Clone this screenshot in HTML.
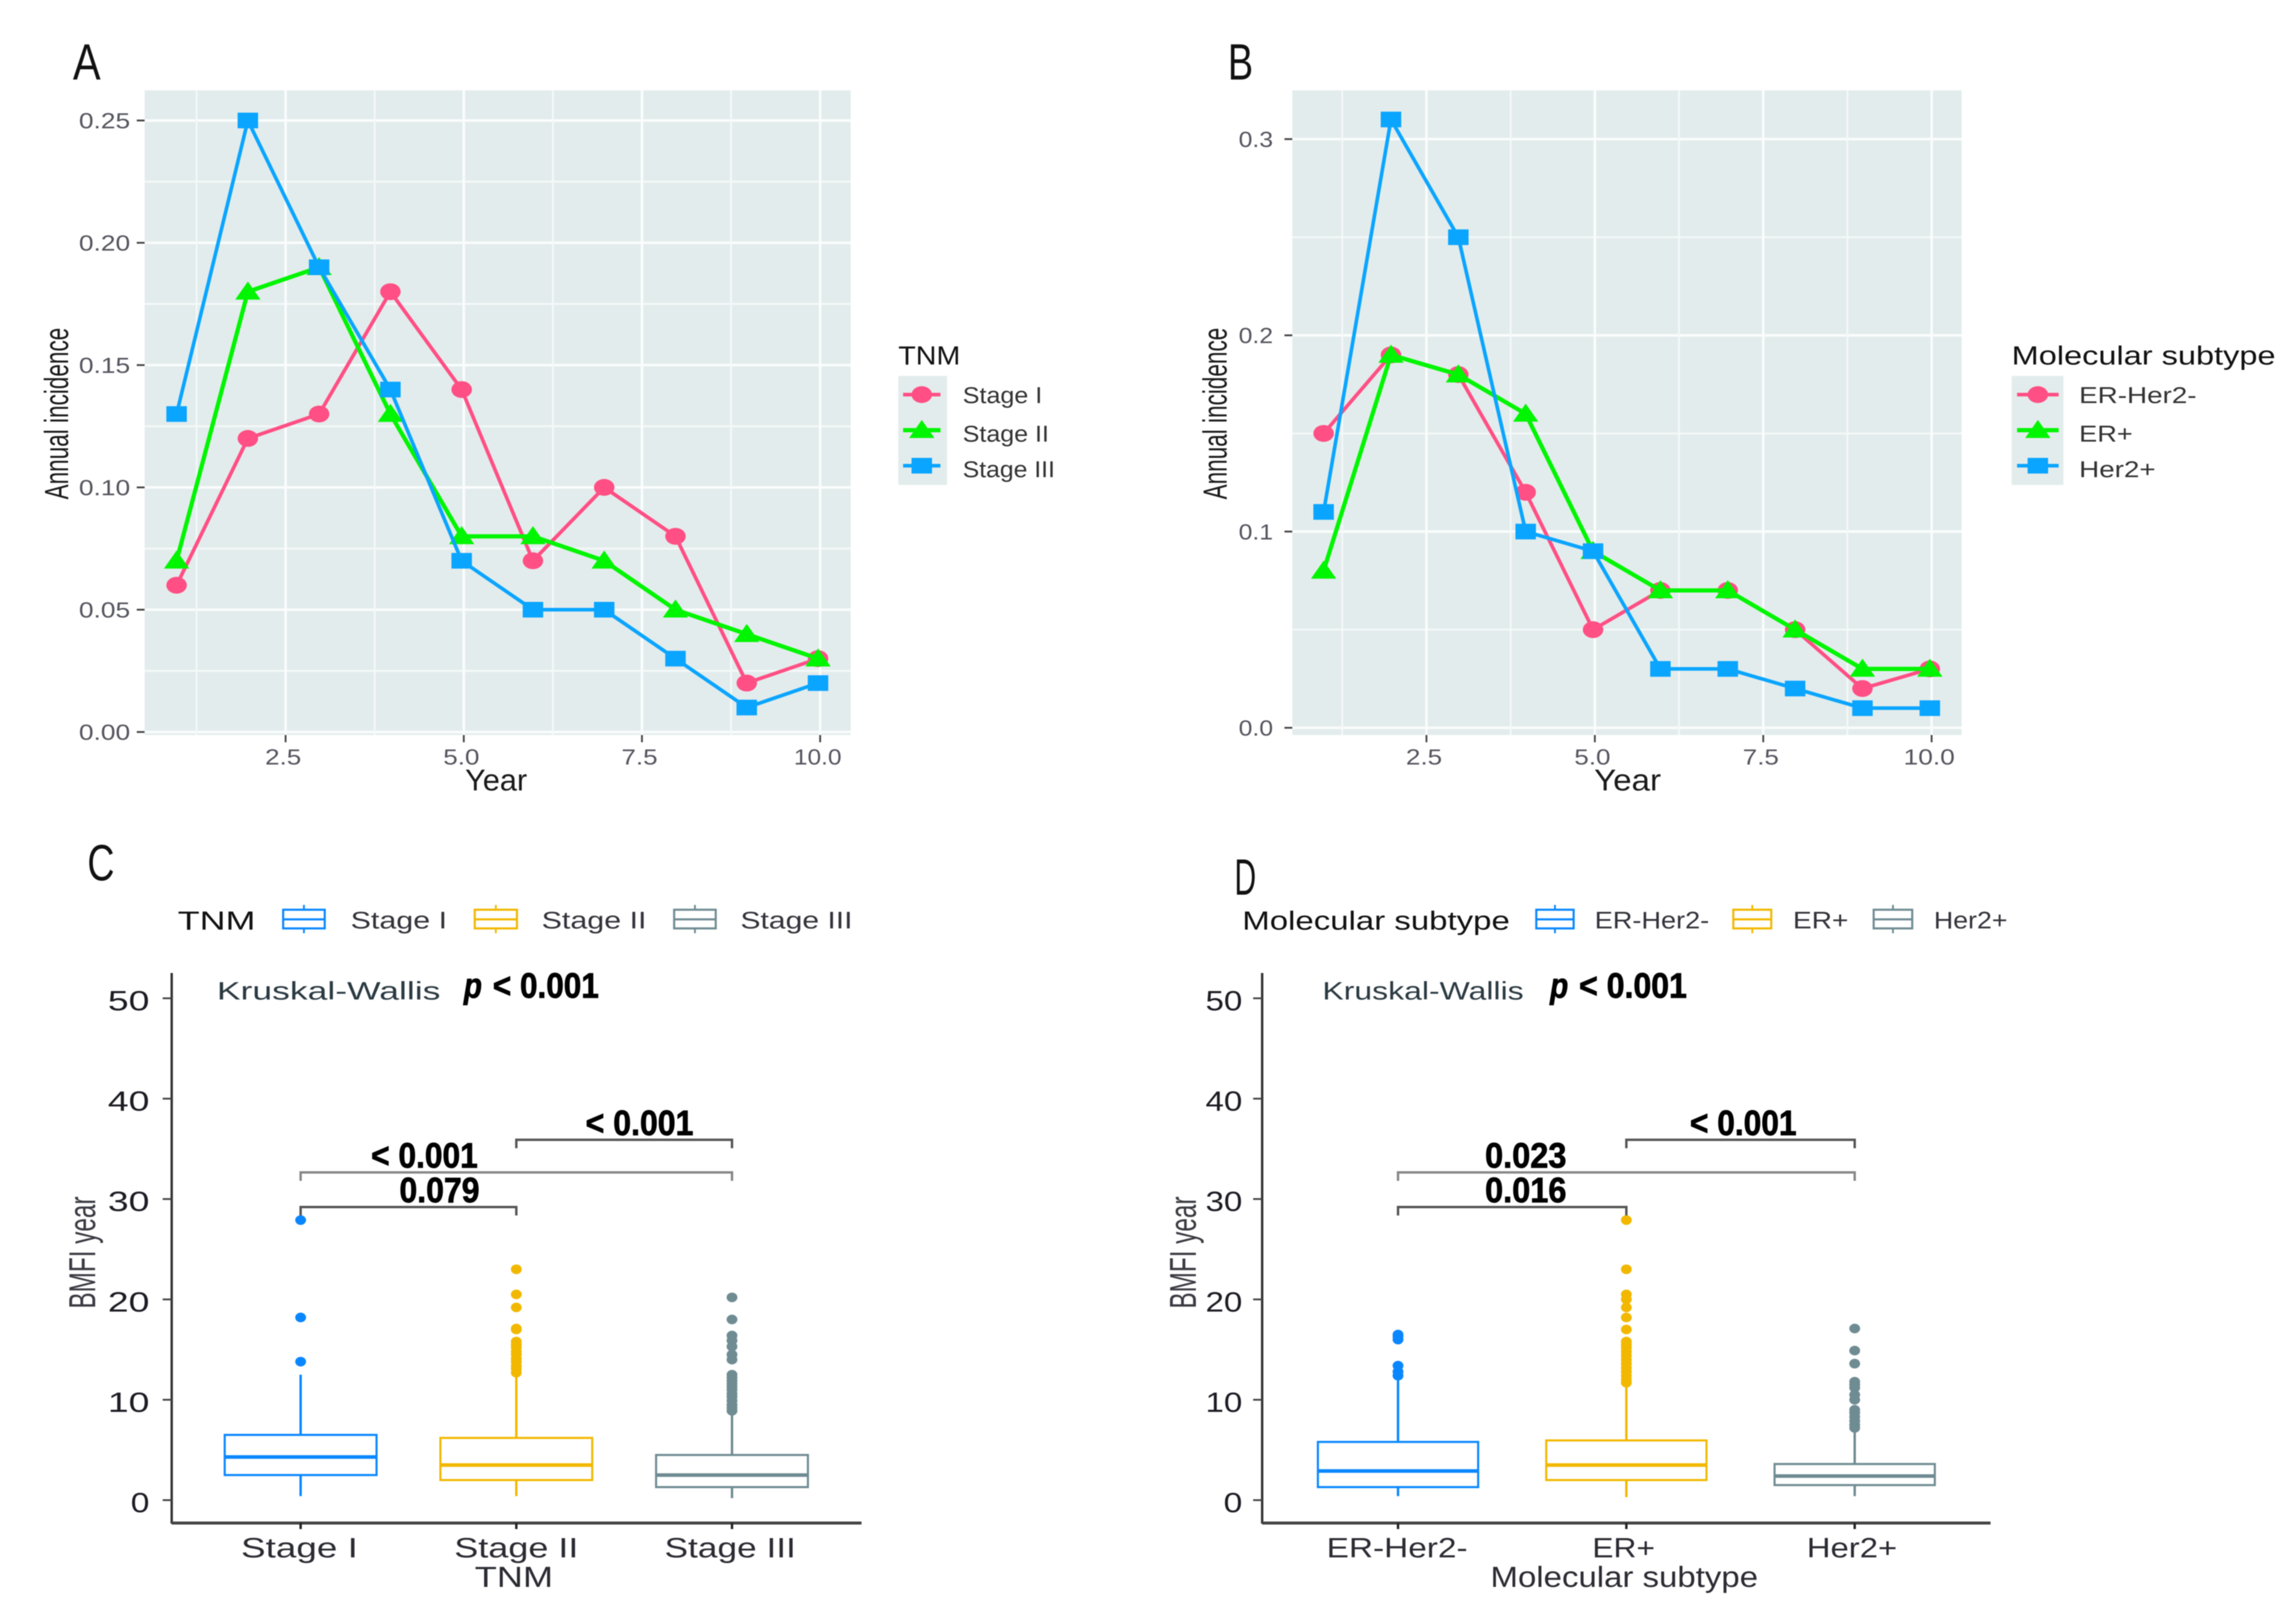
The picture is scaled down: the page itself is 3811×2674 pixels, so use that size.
<!DOCTYPE html>
<html lang="en">
<head>
<meta charset="utf-8">
<title>Annual incidence and BMFI year by TNM and molecular subtype</title>
<style>
html,body{margin:0;padding:0;background:#fff;}
svg{display:block;filter:blur(0.9px);}
text{font-family:"Liberation Sans",sans-serif;}
.letter{font-size:84px;fill:#111;}
.axt{font-size:50px;fill:#1a1a1a;}
.axr{font-size:56px;fill:#1a1a1a;}
.legt{font-size:44px;fill:#111;}
.legl{font-size:38px;fill:#333;}
.kw{font-size:42px;fill:#2b3a42;}
.sig{font-size:58px;font-weight:bold;fill:#000;stroke:#000;stroke-width:1.2px;}
.boxl{font-size:48px;fill:#2b2b33;}
.boxr{font-size:62px;fill:#3a3a42;}
.boxleg{font-size:40px;fill:#33333b;}
</style>
</head>
<body>
<svg id="fig" xmlns="http://www.w3.org/2000/svg" width="3811" height="2674" viewBox="0 0 3811 2674">
<rect width="3811" height="2674" fill="#fff"/>

<text class="letter" x="121" y="132" textLength="46" lengthAdjust="spacingAndGlyphs">A</text>
<text class="letter" x="2038" y="132" textLength="42" lengthAdjust="spacingAndGlyphs">B</text>
<text class="letter" x="145" y="1461" textLength="45" lengthAdjust="spacingAndGlyphs">C</text>
<text class="letter" x="2049" y="1485" textLength="36" lengthAdjust="spacingAndGlyphs">D</text>

<rect x="1491" y="624" width="81" height="181" fill="#e3ecec"/>
<rect x="3339" y="624" width="86" height="181" fill="#e3ecec"/>

<g id="panelA"></g>
<g id="panelB"></g>
<g id="panelC"></g>
<g id="panelD"></g>

<!-- Panel A titles -->
<text class="axt" x="772" y="1312" textLength="103" lengthAdjust="spacingAndGlyphs">Year</text>
<text class="axr" transform="translate(113 829) rotate(-90)" textLength="285" lengthAdjust="spacingAndGlyphs">Annual incidence</text>
<text class="legt" x="1491" y="605" textLength="103" lengthAdjust="spacingAndGlyphs">TNM</text>
<text class="legl" x="1598" y="669" textLength="132" lengthAdjust="spacingAndGlyphs">Stage I</text>
<text class="legl" x="1598" y="733" textLength="143" lengthAdjust="spacingAndGlyphs">Stage II</text>
<text class="legl" x="1598" y="792" textLength="153" lengthAdjust="spacingAndGlyphs">Stage III</text>

<!-- Panel B titles -->
<text class="axt" x="2646" y="1312" textLength="111" lengthAdjust="spacingAndGlyphs">Year</text>
<text class="axr" transform="translate(2036 829) rotate(-90)" textLength="285" lengthAdjust="spacingAndGlyphs">Annual incidence</text>
<text class="legt" x="3339" y="605" textLength="438" lengthAdjust="spacingAndGlyphs">Molecular subtype</text>
<text class="legl" x="3451" y="669" textLength="195" lengthAdjust="spacingAndGlyphs">ER-Her2-</text>
<text class="legl" x="3451" y="733" textLength="89" lengthAdjust="spacingAndGlyphs">ER+</text>
<text class="legl" x="3451" y="792" textLength="127" lengthAdjust="spacingAndGlyphs">Her2+</text>

<!-- Panel C titles -->
<text class="legt" x="295" y="1543" textLength="129" lengthAdjust="spacingAndGlyphs">TNM</text>
<text class="boxleg" x="582" y="1541" textLength="160" lengthAdjust="spacingAndGlyphs">Stage I</text>
<text class="boxleg" x="899" y="1541" textLength="174" lengthAdjust="spacingAndGlyphs">Stage II</text>
<text class="boxleg" x="1229" y="1541" textLength="186" lengthAdjust="spacingAndGlyphs">Stage III</text>
<text class="kw" x="360" y="1659" textLength="371" lengthAdjust="spacingAndGlyphs">Kruskal-Wallis</text>
<text class="sig" x="770" y="1656" textLength="30" lengthAdjust="spacingAndGlyphs" font-style="italic">p</text>
<text class="sig" x="818" y="1656" textLength="176" lengthAdjust="spacingAndGlyphs">&lt; 0.001</text>
<text class="boxl" x="788" y="2634" textLength="130" lengthAdjust="spacingAndGlyphs">TNM</text>
<text class="boxr" transform="translate(158 2172) rotate(-90)" textLength="186" lengthAdjust="spacingAndGlyphs">BMFI year</text>

<!-- Panel D titles -->
<text class="legt" x="2062" y="1543" textLength="444" lengthAdjust="spacingAndGlyphs">Molecular subtype</text>
<text class="boxleg" x="2647" y="1541" textLength="190" lengthAdjust="spacingAndGlyphs">ER-Her2-</text>
<text class="boxleg" x="2976" y="1541" textLength="92" lengthAdjust="spacingAndGlyphs">ER+</text>
<text class="boxleg" x="3210" y="1541" textLength="122" lengthAdjust="spacingAndGlyphs">Her2+</text>
<text class="kw" x="2195" y="1659" textLength="334" lengthAdjust="spacingAndGlyphs">Kruskal-Wallis</text>
<text class="sig" x="2573" y="1656" textLength="30" lengthAdjust="spacingAndGlyphs" font-style="italic">p</text>
<text class="sig" x="2621" y="1656" textLength="179" lengthAdjust="spacingAndGlyphs">&lt; 0.001</text>
<text class="boxl" x="2474" y="2634" textLength="444" lengthAdjust="spacingAndGlyphs">Molecular subtype</text>
<text class="boxr" transform="translate(1985 2172) rotate(-90)" textLength="186" lengthAdjust="spacingAndGlyphs">BMFI year</text>
</svg>

<script>
// ---------- data: line charts ----------
const years = [1, 2, 3, 4, 5, 6, 7, 8, 9, 10];
const xTickValues = [2.5, 5, 7.5, 10];
const xTickMinor = [1.25, 3.75, 6.25, 8.75];

const stageOneIncidence = [0.06, 0.12, 0.13, 0.18, 0.14, 0.07, 0.10, 0.08, 0.02, 0.03];
const stageTwoIncidence = [0.07, 0.18, 0.19, 0.13, 0.08, 0.08, 0.07, 0.05, 0.04, 0.03];
const stageThreeIncidence = [0.13, 0.25, 0.19, 0.14, 0.07, 0.05, 0.05, 0.03, 0.01, 0.02];
const yTicksA = [0, 0.05, 0.10, 0.15, 0.20, 0.25];
const yMinorA = [0.025, 0.075, 0.125, 0.175, 0.225];

const erHer2NegIncidence = [0.15, 0.19, 0.18, 0.12, 0.05, 0.07, 0.07, 0.05, 0.02, 0.03];
const erPosIncidence = [0.08, 0.19, 0.18, 0.16, 0.09, 0.07, 0.07, 0.05, 0.03, 0.03];
const her2PosIncidence = [0.11, 0.31, 0.25, 0.10, 0.09, 0.03, 0.03, 0.02, 0.01, 0.01];
const yTicksB = [0, 0.1, 0.2, 0.3];
const yMinorB = [0.05, 0.15, 0.25];

// ---------- data: box plots ----------
const boxTicks = [0, 10, 20, 30, 40, 50];

const tnmCategories = ['Stage I', 'Stage II', 'Stage III'];
const tnmLow = [0.4, 0.4, 0.2];
const tnmQ1 = [2.5, 2.0, 1.3];
const tnmMedian = [4.3, 3.5, 2.5];
const tnmQ3 = [6.5, 6.2, 4.5];
const tnmHigh = [12.5, 12.5, 8.8];
const tnmOutliersOne = [13.8, 18.2, 27.9];
const tnmOutliersTwo = [12.7, 13.1, 13.4, 13.8, 14.1, 14.5, 14.8, 15.2, 15.5, 15.8, 17, 17.1, 19.2, 20.5, 23];
const tnmOutliersThree = [8.9, 9.2, 9.5, 9.9, 10.3, 10.6, 11, 11.3, 11.6, 11.9, 12.2, 12.5, 14, 14.5, 15.3, 15.9, 16.4, 18, 20.2];
const tnmBracketFrom = [0, 0, 1];
const tnmBracketTo = [1, 2, 2];
const tnmBracketLevel = [29.2, 32.65, 35.9];
const tnmBracketLabels = ['0.079', '< 0.001', '< 0.001'];

const subtypeCategories = ['ER-Her2-', 'ER+', 'Her2+'];
const subtypeLow = [0.4, 0.3, 0.4];
const subtypeQ1 = [1.3, 2.0, 1.5];
const subtypeMedian = [2.9, 3.5, 2.4];
const subtypeQ3 = [5.8, 5.95, 3.6];
const subtypeHigh = [12.3, 11.5, 7.0];
const subtypeOutliersOne = [12.4, 12.8, 13.4, 16, 16.3, 16.5];
const subtypeOutliersTwo = [11.7, 12, 12.4, 12.8, 13.2, 13.6, 14, 14.4, 14.8, 15.2, 15.5, 15.8, 17, 18.2, 19.2, 20, 20.5, 23, 27.9];
const subtypeOutliersThree = [7.2, 7.5, 7.9, 8.3, 8.7, 9, 10, 10.5, 11.2, 11.5, 11.8, 13.6, 14.9, 17.1];
const subtypeBracketFrom = [0, 0, 1];
const subtypeBracketTo = [1, 2, 2];
const subtypeBracketLevel = [29.2, 32.65, 35.9];
const subtypeBracketLabels = ['0.016', '0.023', '< 0.001'];

// ---------- helpers ----------
const SVGNS = 'http://www.w3.org/2000/svg';
const PINK = '#ff4f85', GREEN = '#00f500', BLUE = '#0aa5ff';
const BOX_COLORS = ['#0a87ff', '#f2b800', '#6f8c93'];

function mk(parent, tag, attrs, name) {
  const el = document.createElementNS(SVGNS, tag);
  for (const k in attrs) el.setAttribute(k, attrs[k]);
  
  
  parent.appendChild(el);
  return el;
}
function line(p, x1, y1, x2, y2, stroke, w, name) {
  return mk(p, 'line', {x1, y1, x2, y2, stroke, 'stroke-width': w}, name);
}
function label(p, str, x, y, size, fill, len, anchor, name) {
  const el = mk(p, 'text', {x, y, 'font-size': size, fill, 'text-anchor': anchor, textLength: len, lengthAdjust: 'spacingAndGlyphs'}, name);
  el.textContent = str;
  return el;
}
function marker(p, shape, cx, cy, color, name) {
  if (shape === 'circle') return mk(p, 'ellipse', {cx, cy, rx: 17, ry: 14, fill: color}, name);
  if (shape === 'square') return mk(p, 'rect', {x: cx - 17, y: cy - 13, width: 34, height: 26, fill: color}, name);
  return mk(p, 'polygon', {points: (cx - 21) + ',' + (cy + 13) + ' ' + cx + ',' + (cy - 17) + ' ' + (cx + 21) + ',' + (cy + 13), fill: color}, name);
}

// ---------- line panels ----------
function drawLinePanel(root, o) {
  const x = v => o.x1 + (v - 1) * o.xUnit;
  const y = v => o.y0 - v * o.yUnit;
  const xm = v => x(v) + o.markShift;
  mk(root, 'rect', {x: o.left, y: o.top, width: o.right - o.left, height: o.bottom - o.top, fill: '#e3ecec'}, 'plot-background');
  o.yMinor.forEach(v => line(root, o.left, y(v), o.right, y(v), '#f4f8f8', 3, 'grid-minor-y'));
  o.yTicks.forEach(v => line(root, o.left, y(v), o.right, y(v), '#fbfdfd', 4, 'grid-major-y'));
  xTickMinor.forEach(v => line(root, x(v), o.top, x(v), o.bottom, '#f4f8f8', 3, 'grid-minor-x'));
  xTickValues.forEach(v => line(root, x(v), o.top, x(v), o.bottom, '#fbfdfd', 4, 'grid-major-x'));
  o.yTicks.forEach(v => {
    line(root, o.left - 13, y(v), o.left, y(v), '#444', 3, 'y-tick');
    label(root, v.toFixed(o.yDigits), o.yLabelRight, y(v) + 13, 36, '#55555f', o.yLabelLen, 'end', 'y-tick-label');
  });
  xTickValues.forEach(v => {
    line(root, x(v), o.bottom, x(v), o.bottom + 12, '#444', 3, 'x-tick');
    label(root, v.toFixed(1), x(v) - 4, 1269, 36, '#55555f', v === 10 ? o.xLenLong : 60, 'middle', 'x-tick-label');
  });
  o.series.forEach(s => {
    const pts = years.map((yr, i) => xm(yr) + ',' + y(s.values[i])).join(' ');
    mk(root, 'polyline', {points: pts, fill: 'none', stroke: s.color, 'stroke-width': s.width, 'stroke-linejoin': 'round'}, 'line-' + s.key);
    years.forEach((yr, i) => marker(root, s.shape, xm(yr), y(s.values[i]), s.color, 'point-' + s.key));
  });
  o.series.forEach((s, i) => {
    const ky = o.keyY[i];
    line(root, o.keyX1, ky, o.keyX2, ky, s.color, s.width, 'legend-line-' + s.key);
    marker(root, s.shape, (o.keyX1 + o.keyX2) / 2, ky, s.color, 'legend-marker-' + s.key);
  });
}

drawLinePanel(document.getElementById('panelA'), {
  left: 240, right: 1412, top: 150, bottom: 1220,
  x1: 296.6, xUnit: 118.3, markShift: -3.5, y0: 1215, yUnit: 4060,
  yTicks: yTicksA, yMinor: yMinorA, yDigits: 2, yLabelRight: 216, yLabelLen: 85, xLenLong: 79,
  keyX1: 1499, keyX2: 1561, keyY: [655, 714, 773],
  series: [
    {key: 'stage-1', values: stageOneIncidence, color: PINK, shape: 'circle', width: 6},
    {key: 'stage-2', values: stageTwoIncidence, color: GREEN, shape: 'triangle', width: 7},
    {key: 'stage-3', values: stageThreeIncidence, color: BLUE, shape: 'square', width: 6}
  ]
});
drawLinePanel(document.getElementById('panelB'), {
  left: 2145, right: 3256, top: 150, bottom: 1220,
  x1: 2200, xUnit: 111.8, markShift: -3, y0: 1208, yUnit: 3257,
  yTicks: yTicksB, yMinor: yMinorB, yDigits: 1, yLabelRight: 2113, yLabelLen: 57, xLenLong: 85,
  keyX1: 3348, keyX2: 3417, keyY: [655, 714, 773],
  series: [
    {key: 'er-her2-neg', values: erHer2NegIncidence, color: PINK, shape: 'circle', width: 6},
    {key: 'er-pos', values: erPosIncidence, color: GREEN, shape: 'triangle', width: 7},
    {key: 'her2-pos', values: her2PosIncidence, color: BLUE, shape: 'square', width: 6}
  ]
});

// ---------- box panels ----------
function drawBoxPanel(root, o) {
  const y = v => 2490 - v * 16.66;
  const x = i => o.cat0 + i * o.catStep;
  line(root, o.axisLeft, 1615, o.axisLeft, 2529, '#333', 4, 'y-axis-line');
  line(root, o.axisLeft, 2528, o.axisRight, 2528, '#444', 5, 'x-axis-line');
  boxTicks.forEach(v => {
    line(root, o.axisLeft - 15, y(v), o.axisLeft, y(v), '#444', 3, 'y-tick');
    const s = String(v);
    label(root, s, o.tickRight, y(v) + 20, 46, '#1c1c24', s.length === 1 ? 31 : o.tickLen, 'end', 'y-tick-label');
  });
  o.categories.forEach((c, i) => {
    line(root, x(i), 2528, x(i), 2538, '#222', 4, 'x-tick');
    label(root, c, o.catLabelX[i], 2585, 46, '#2b2b33', o.catLabelLen[i], 'start', 'x-tick-label');
    const color = BOX_COLORS[i];
    const hw = o.boxWidth / 2;
    line(root, x(i), y(o.q3[i]), x(i), y(o.high[i]), color, 4, 'whisker-upper');
    line(root, x(i), y(o.q1[i]), x(i), y(o.low[i]), color, 4, 'whisker-lower');
    mk(root, 'rect', {x: x(i) - hw, y: y(o.q3[i]), width: o.boxWidth, height: y(o.q1[i]) - y(o.q3[i]), fill: '#fff', stroke: color, 'stroke-width': 3.5}, 'box');
    line(root, x(i) - hw, y(o.median[i]), x(i) + hw, y(o.median[i]), color, 6, 'median');
    o.outliers[i].forEach(v => mk(root, 'ellipse', {cx: x(i), cy: y(v), rx: 9, ry: 8, fill: color}, 'outlier'));
  });
  o.bFrom.forEach((f, i) => {
    const ya = y(o.bLevel[i]);
    const xa = x(f), xb = x(o.bTo[i]);
    const col = i === 1 ? '#888' : '#555';
    mk(root, 'polyline', {points: xa + ',' + (ya + 14) + ' ' + xa + ',' + ya + ' ' + xb + ',' + ya + ' ' + xb + ',' + (ya + 14), fill: 'none', stroke: col, 'stroke-width': 4}, 'significance-bracket');
    const t = label(root, o.bLabels[i], o.bLabelX[i], ya - 8, 58, '#000', o.bLabelLen[i], 'start', 'significance-label');
    t.setAttribute('font-weight', 'bold');
    t.setAttribute('stroke', '#000');
    t.setAttribute('stroke-width', '1.2');
  });
  o.legendBoxes.forEach((k, i) => {
    const color = BOX_COLORS[i];
    const mid = (k[0] + k[1]) / 2;
    line(root, mid, 1502, mid, 1549, color, 3, 'legend-key-whisker');
    mk(root, 'rect', {x: k[0], y: 1510, width: k[1] - k[0], height: 31, fill: '#fff', stroke: color, 'stroke-width': 3.5}, 'legend-key-box');
    line(root, k[0], 1526, k[1], 1526, color, 3.5, 'legend-key-median');
  });
}

drawBoxPanel(document.getElementById('panelC'), {
  axisLeft: 285, axisRight: 1430, cat0: 499, catStep: 358, boxWidth: 252,
  tickRight: 248, tickLen: 69,
  categories: tnmCategories, catLabelX: [400, 754, 1103], catLabelLen: [194, 206, 218],
  low: tnmLow, q1: tnmQ1, median: tnmMedian, q3: tnmQ3, high: tnmHigh,
  outliers: [tnmOutliersOne, tnmOutliersTwo, tnmOutliersThree],
  bFrom: tnmBracketFrom, bTo: tnmBracketTo, bLevel: tnmBracketLevel, bLabels: tnmBracketLabels,
  bLabelX: [663, 616, 972], bLabelLen: [133, 177, 179],
  legendBoxes: [[470, 539], [788, 858], [1119, 1188]]
});
drawBoxPanel(document.getElementById('panelD'), {
  axisLeft: 2095, axisRight: 3304, cat0: 2320.5, catStep: 379, boxWidth: 266,
  tickRight: 2062, tickLen: 61,
  categories: subtypeCategories, catLabelX: [2202, 2643, 2999], catLabelLen: [234, 104, 150],
  low: subtypeLow, q1: subtypeQ1, median: subtypeMedian, q3: subtypeQ3, high: subtypeHigh,
  outliers: [subtypeOutliersOne, subtypeOutliersTwo, subtypeOutliersThree],
  bFrom: subtypeBracketFrom, bTo: subtypeBracketTo, bLevel: subtypeBracketLevel, bLabels: subtypeBracketLabels,
  bLabelX: [2465, 2465, 2805], bLabelLen: [135, 135, 177],
  legendBoxes: [[2550, 2612], [2877, 2940], [3110, 3174]]
});
</script>
</body>
</html>
